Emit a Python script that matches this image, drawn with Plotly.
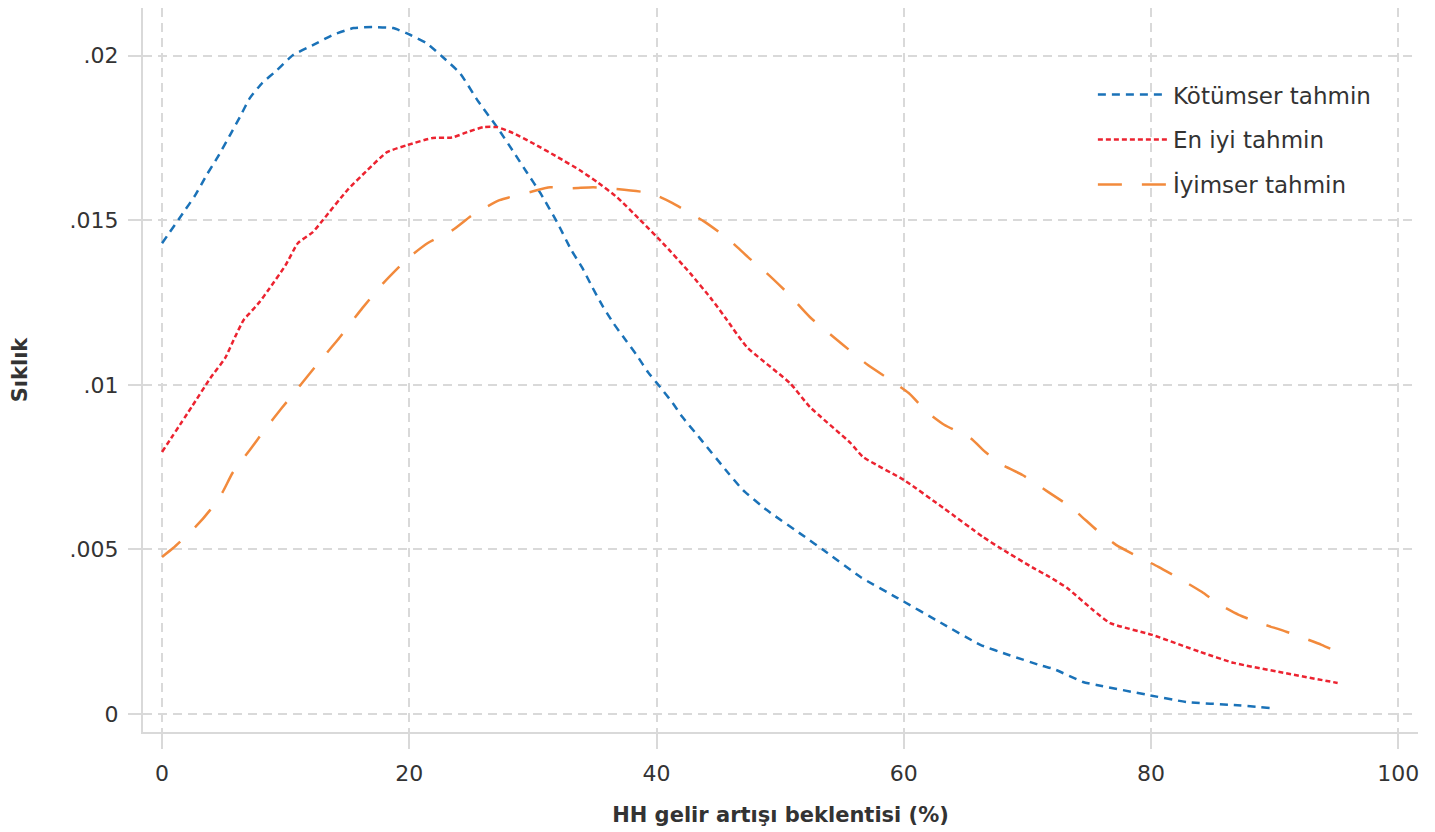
import plotly.graph_objects as go

# Kötümser tahmin (pessimistic)
x_kot = [0, 1.7, 2.7, 3.6, 4.5, 5.5, 6.3, 7.1, 8.1, 9.3, 10.6, 12.2, 13.8, 15.5, 17.1, 18.7,
         20.1, 21.4, 22.7, 24.1, 25.6, 27.1, 28.6, 29.5, 30.6, 32.0, 33.1, 34.0, 34.8, 35.6,
         36.5, 37.5, 38.4, 39.3, 40.3, 41.3, 42.1, 43.5, 45.8, 47.0, 48.9, 52.0, 53.5, 56.5,
         59.5, 63.0, 66.2, 68.5, 71.2, 72.1, 74.5, 75.6, 79.7, 82.9, 86.7, 89.6]
y_kot = [.0143, .01522, .01577, .01637, .01692, .01759, .01814, .01871, .01917, .01956, .02002,
         .02032, .02063, .02084, .02087, .02084, .02063, .02038, .01996, .01947, .0186, .01783,
         .01698, .01646, .01583, .01491, .0141, .01355, .01297, .01242, .01188, .01136, .0109,
         .01039, .00993, .00945, .00902, .00838, .00732, .0068, .0062, .00538, .00498, .00416,
         .00352, .00277, .0021, .00179, .00146, .00137, .00097, .00088, .00058, .00036, .00027,
         .00018]

# En iyi tahmin (best)
x_en = [0, 2.4, 3.9, 5.1, 5.9, 6.6, 7.1, 7.9, 8.6, 10.0, 11.0, 12.2, 13.0, 15.0, 16.6, 18.2,
        19.8, 21.9, 23.5, 24.7, 26.0, 27.1, 28.4, 30.0, 32.0, 33.8, 35.2, 36.8, 38.7, 40.5,
        42.7, 44.5, 45.7, 47.3, 50.8, 52.4, 55.7, 56.7, 60.0, 63.2, 66.4, 67.8, 70.5, 71.8,
        73.2, 75.3, 76.7, 80.1, 84.0, 86.7, 90.7, 95.1]
y_en = [.00796, .00933, .0102, .01081, .01145, .01197, .01218, .01252, .01288, .01364, .01431,
        .01464, .0150, .01592, .01652, .01707, .01728, .0175, .01752, .01768, .01783, .01783,
        .01765, .01734, .01692, .01652, .01616, .0157, .0150, .01431, .0134, .01258, .01197,
        .01115, .01005, .00933, .00823, .00781, .00711, .00626, .00538, .00504, .00443, .00416,
        .00383, .00316, .00276, .0024, .00188, .00155, .00125, .00094]

# İyimser tahmin (optimistic)
x_iy = [0, 0.9, 2.7, 3.9, 4.9, 5.7, 7.1, 8.3, 9.7, 11.0, 12.5, 14.2, 16.2, 17.9, 19.9, 21.5,
        23.5, 25.1, 27.3, 29.8, 31.4, 33.0, 34.9, 36.7, 38.9, 40.0, 41.3, 43.9, 45.8, 47.4,
        48.9, 50.6, 52.4, 55.1, 57.1, 58.9, 60.4, 61.9, 63.3, 65.4, 66.6, 68.0, 69.6, 71.7,
        73.6, 75.6, 77.2, 79.0, 80.6, 82.5, 84.1, 85.6, 87.1, 88.8, 91.0, 93.8, 95.1]
y_iy = [.00477, .00504, .00568, .0062, .00674, .00732, .00802, .00863, .0093, .0099, .0106,
        .01136, .01233, .01309, .01385, .01431, .0147, .01516, .01561, .01586, .0160, .01597,
        .0160, .01595, .01586, .01575, .01552, .01495, .01443, .01388, .0134, .01279, .01206,
        .01121, .0106, .01015, .00975, .00917, .00878, .00838, .00796, .00756, .00726, .00674,
        .00626, .00559, .00513, .00477, .00447, .00407, .00371, .00331, .00301, .00276,
        .00249, .0021, .00188]

x_ticks = [0, 20, 40, 60, 80, 100]
y_ticks = [0, .005, .01, .015, .02]
y_ticktext = ["0", ".005", ".01", ".015", ".02"]

FONT = "DejaVu Sans"
TXT = "#333333"
GRID = "#d9d9d9"

fig = go.Figure()
fig.add_trace(go.Scatter(x=x_kot, y=y_kot, mode="lines", name="Kötümser tahmin", legendgroup="a",
                         line=dict(color="#1a72b8", width=2.5, dash="8px,6px", shape="spline",
                                   smoothing=0.5)))
fig.add_trace(go.Scatter(x=x_en, y=y_en, mode="lines", name="En iyi tahmin", legendgroup="b",
                         line=dict(color="#ec2330", width=2.5, dash="5px,3px", shape="spline",
                                   smoothing=0.5)))
fig.add_trace(go.Scatter(x=x_iy, y=y_iy, mode="lines", name="İyimser tahmin", legendgroup="c",
                         line=dict(color="#f28a3c", width=2.5, dash="24px,20px", shape="spline",
                                   smoothing=0.5)))

# page body has an 8px default margin, so the figure is 8px smaller than the window
fig.update_layout(
    width=1427, height=824,
    margin=dict(l=135, r=17, t=0, b=100),
    paper_bgcolor="white", plot_bgcolor="white",
    font=dict(family=FONT, size=22, color=TXT),
    legend=dict(x=0.745, y=0.91, xanchor="left", yanchor="top",
                font=dict(size=23, color=TXT), bgcolor="rgba(0,0,0,0)",
                itemwidth=70, tracegroupgap=12),
    xaxis=dict(range=[-1.54, 101.6], tickvals=x_ticks, showline=True, linecolor=GRID,
               linewidth=2, showgrid=True, gridcolor=GRID, griddash="9px,6px", gridwidth=2,
               ticks="outside", ticklen=15, tickwidth=2, tickcolor=GRID, zeroline=False,
               automargin=False, ticklabelstandoff=6,
               title=dict(text="<b>HH gelir artışı beklentisi (%)</b>", font=dict(size=21),
                          standoff=22),
               tickfont=dict(size=22)),
    yaxis=dict(range=[-0.00055, 0.02145], tickvals=y_ticks, ticktext=y_ticktext,
               showline=True, linecolor=GRID, linewidth=2, showgrid=True, gridcolor=GRID,
               griddash="9px,6px", gridwidth=2, ticks="outside", ticklen=13, tickwidth=2,
               tickcolor=GRID, zeroline=False, automargin=False, ticklabelstandoff=5,
               title=dict(text="<b>Sıklık</b>", font=dict(size=21), standoff=40),
               tickfont=dict(size=22)),
)

fig.write_html("out.html")
